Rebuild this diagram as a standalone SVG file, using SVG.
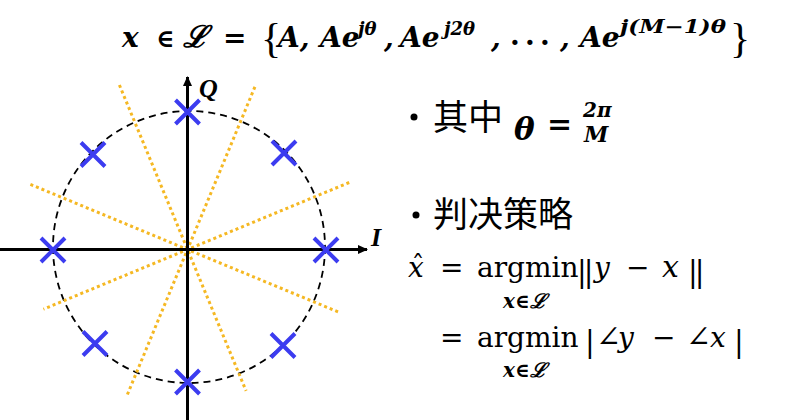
<svg xmlns="http://www.w3.org/2000/svg" width="789" height="420" viewBox="0 0 789 420">
<defs>
<style>
.m{font-family:"DejaVu Serif","Liberation Serif",serif;fill:#000}
.lb{font-family:"Liberation Serif","DejaVu Serif",serif;fill:#000}
.bi{font-style:italic;font-weight:bold}
.i{font-style:italic}
.b{font-weight:bold}
.cjk{font-family:"Noto Sans CJK SC","Noto Sans",sans-serif;fill:#000}
.cross{stroke:#3c3cf0;stroke-width:4;fill:none}
.bnd{stroke:#f5b823;stroke-width:3;stroke-dasharray:3 3;fill:none}
.ax{stroke:#000;stroke-width:3;fill:none}
</style>
<marker id="arr" viewBox="0 0 10 10" refX="9" refY="5" markerWidth="10" markerHeight="10" markerUnits="userSpaceOnUse" orient="auto">
<path d="M0,0.5 L10,5 L0,9.5 z" fill="#000"/>
</marker>
</defs>
<rect width="789" height="420" fill="#fff"/>

<g id="constellation">
<circle cx="189" cy="247" r="136" fill="none" stroke="#000" stroke-width="1.8" stroke-dasharray="7 5"/>
<g id="boundaries">
<line class="bnd" x1="119.4" y1="85" x2="246.1" y2="390.9"/>
<line class="bnd" x1="254.9" y1="86.9" x2="127.4" y2="394.5"/>
<line class="bnd" x1="30.4" y1="184.4" x2="338.1" y2="311.9"/>
<line class="bnd" x1="349.2" y1="182.5" x2="43.4" y2="309.2"/>
</g>
<g id="axes">
<line class="ax" x1="0" y1="249.5" x2="367" y2="249.5" marker-end="url(#arr)"/>
<line class="ax" x1="187.5" y1="420" x2="187.5" y2="77" marker-end="url(#arr)"/>
<text class="lb bi" x="371" y="246" font-size="26">I</text>
<text class="lb bi" x="199" y="97" font-size="26">Q</text>
</g>
<g id="points">
<path class="cross" d="M41,238 l24,24 M65,238 l-24,24"/>
<path class="cross" d="M314,238 l24,24 M338,238 l-24,24"/>
<path class="cross" d="M175.5,100 l24,24 M199.5,100 l-24,24"/>
<path class="cross" d="M175.5,370 l24,24 M199.5,370 l-24,24"/>
<path class="cross" d="M81,142.5 l24,24 M105,142.5 l-24,24"/>
<path class="cross" d="M272,141 l24,24 M296,141 l-24,24"/>
<path class="cross" d="M83,331.5 l24,24 M107,331.5 l-24,24"/>
<path class="cross" d="M271,333.5 l24,24 M295,333.5 l-24,24"/>
</g>
</g>

<g id="title">
<text class="m bi" x="122" y="47" font-size="28">x</text>
<text class="m b" x="156" y="47" font-size="25">∈</text>
<text class="m bi" x="183" y="47" font-size="30">ℒ</text>
<text class="m b" x="223" y="47" font-size="28">=</text>
<text class="lb" x="261" y="52" font-size="42">{</text>
<text class="m bi" x="278" y="47" font-size="28">A,</text>
<text class="m bi" x="320" y="47" font-size="28">Ae</text>
<text class="m bi" x="358" y="35" font-size="18">jθ</text>
<text class="m bi" x="384" y="47" font-size="28">,</text>
<text class="m bi" x="400" y="47" font-size="28">Ae</text>
<text class="m bi" x="444" y="35" font-size="18">j2θ</text>
<text class="m bi" x="491" y="47" font-size="28">,</text>
<text class="m b" y="52" font-size="28"><tspan x="510">·</tspan><tspan x="525">·</tspan><tspan x="540">·</tspan></text>
<text class="m bi" x="560" y="47" font-size="28">,</text>
<text class="m bi" x="580" y="47" font-size="28">Ae</text>
<text class="m bi" x="620" y="33" font-size="18" textLength="106" lengthAdjust="spacingAndGlyphs">j(M−1)θ</text>
<text class="lb" x="730" y="52" font-size="42">}</text>
</g>

<g id="bullet1">
<circle cx="414" cy="117" r="3.5" fill="#000"/>
<text class="cjk" x="433" y="130" font-size="35">其中</text>
<text class="m bi" x="514" y="140" font-size="31">θ</text>
<text class="m b" x="547" y="134" font-size="30">=</text>
<text class="m bi" x="583" y="117" font-size="20">2π</text>
<text class="m bi" x="584" y="142" font-size="22">M</text>
</g>

<g id="bullet2">
<circle cx="416" cy="215" r="3.5" fill="#000"/>
<text class="cjk" x="433" y="227" font-size="35">判决策略</text>
<text class="m i" x="408" y="277" font-size="28">x</text>
<text class="m" x="418" y="274" font-size="26" text-anchor="middle">ˆ</text>
<text class="m" x="440" y="277" font-size="28">=</text>
<text class="m" x="477" y="277" font-size="28">argmin</text>
<text class="m bi" x="503" y="308" font-size="20">x∈ℒ</text>
<text class="m" x="577" y="282" font-size="29" letter-spacing="-3">||</text>
<text class="m i" x="594" y="277" font-size="28">y</text>
<text class="m" x="626" y="277" font-size="28">−</text>
<text class="m i" x="662" y="277" font-size="30">x</text>
<text class="m" x="688" y="282" font-size="29" letter-spacing="-3">||</text>
<text class="m" x="440" y="347" font-size="28">=</text>
<text class="m" x="477" y="347" font-size="28">argmin</text>
<text class="m bi" x="503" y="377" font-size="20">x∈ℒ</text>
<text class="m" x="585" y="352" font-size="29">|</text>
<text class="m" x="596" y="347" font-size="30">∠</text>
<text class="m i" x="618" y="347" font-size="28">y</text>
<text class="m" x="652" y="347" font-size="28">−</text>
<text class="m" x="686" y="347" font-size="30">∠</text>
<text class="m i" x="710" y="347" font-size="28">x</text>
<text class="m" x="734" y="352" font-size="29">|</text>
</g>
</svg>
